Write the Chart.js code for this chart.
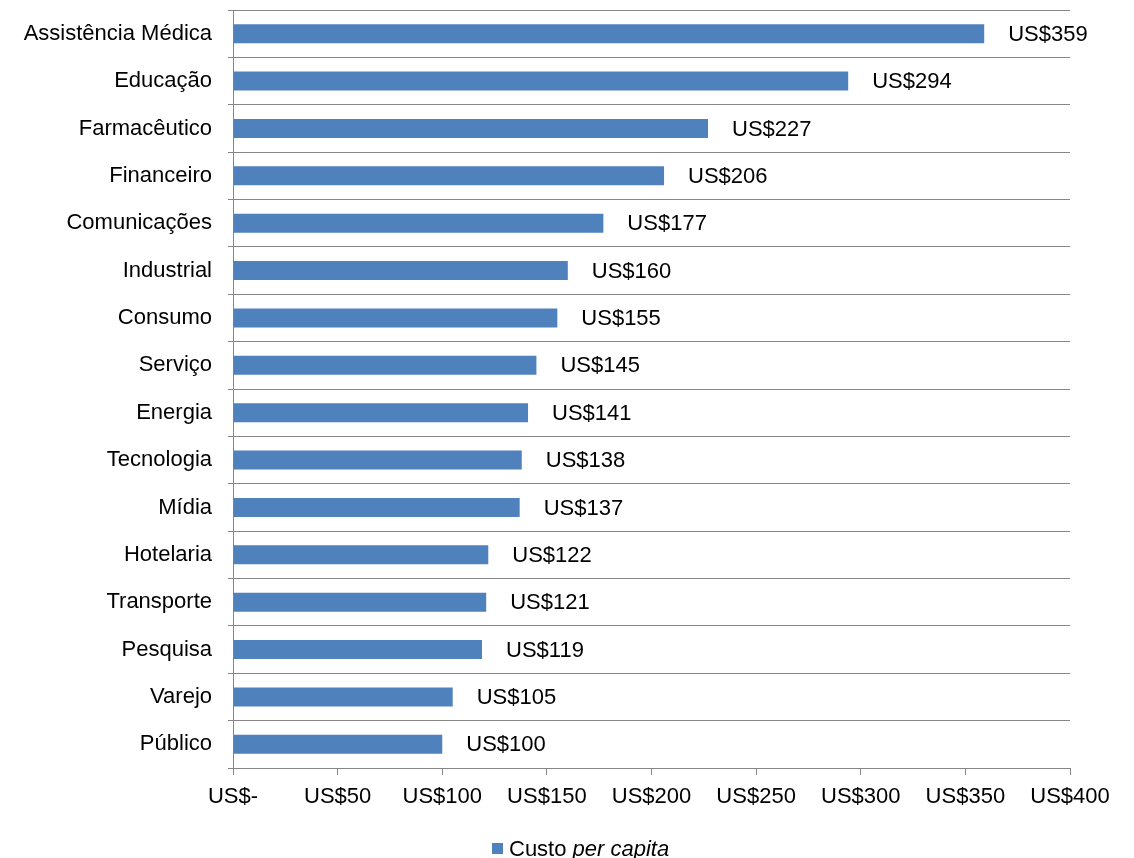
<!DOCTYPE html>
<html lang="pt">
<head>
    <meta charset="UTF-8">
    <title>Custo per capita por setor</title>
    <script src="https://cdn.jsdelivr.net/npm/chart.js"></script>
    <style>
        html, body { margin: 0; padding: 0; background: #fff; }
        #wrap { position: relative; width: 1134px; height: 858px; }
    </style>
</head>
<body>
<div id="wrap"><canvas id="chart"></canvas></div>
<script>
    // data
    const sectors = ['Assistência Médica', 'Educação', 'Farmacêutico', 'Financeiro', 'Comunicações',
        'Industrial', 'Consumo', 'Serviço', 'Energia', 'Tecnologia', 'Mídia', 'Hotelaria',
        'Transporte', 'Pesquisa', 'Varejo', 'Público'];
    const costPerCapita = [359, 294, 227, 206, 177, 160, 155, 145, 141, 138, 137, 122, 121, 119, 105, 100];
    const xTicks = [0, 50, 100, 150, 200, 250, 300, 350, 400];

    const FONT = "'Liberation Sans', Arial, sans-serif";
    const SIZE = 22;
    const GRAY = '#868686';
    const BLUE = '#4F81BD';

    const fmt = v => v === 0 ? 'US$-' : 'US$' + v;

    // value labels to the right of each bar
    const valueLabels = {
        id: 'valueLabels',
        afterDatasetsDraw(chart) {
            const ctx = chart.ctx;
            const meta = chart.getDatasetMeta(0);
            ctx.save();
            ctx.font = SIZE + 'px ' + FONT;
            ctx.fillStyle = '#000';
            ctx.textAlign = 'left';
            ctx.textBaseline = 'middle';
            meta.data.forEach((bar, i) => {
                ctx.fillText(fmt(costPerCapita[i]), bar.x + 24, bar.y + 1);
            });
            ctx.restore();
        }
    };

    // legend with the italic "per capita"
    const customLegend = {
        id: 'customLegend',
        afterDraw(chart) {
            const ctx = chart.ctx;
            ctx.save();
            ctx.fillStyle = BLUE;
            ctx.fillRect(492, 843, 11, 11);
            ctx.fillStyle = '#000';
            ctx.textBaseline = 'alphabetic';
            ctx.font = SIZE + 'px ' + FONT;
            ctx.fillText('Custo ', 509, 856);
            const w = ctx.measureText('Custo ').width;
            ctx.font = 'italic ' + SIZE + 'px ' + FONT;
            ctx.fillText('per capita', 509 + w, 856);
            ctx.restore();
        }
    };

    new Chart(document.getElementById('chart'), {
        type: 'bar',
        data: {
            labels: sectors,
            datasets: [{
                label: 'Custo per capita',
                data: costPerCapita,
                backgroundColor: BLUE,
                borderWidth: 0,
                barPercentage: 0.8,
                categoryPercentage: 0.5
            }]
        },
        options: {
            indexAxis: 'y',
            responsive: true,
            maintainAspectRatio: false,
            animation: false,
            layout: { padding: { top: 10, right: 64, left: 8, bottom: 0 } },
            plugins: {
                legend: { display: false },
                tooltip: { enabled: false }
            },
            scales: {
                x: {
                    min: 0,
                    max: 400,
                    afterBuildTicks: s => { s.ticks = xTicks.map(v => ({ value: v })); },
                    afterFit: s => { s.height = 90; },
                    grid: { drawOnChartArea: false, drawTicks: true, tickLength: 7, color: GRAY },
                    border: { color: GRAY, width: 1 },
                    ticks: {
                        color: '#000',
                        font: { family: FONT, size: SIZE },
                        padding: 9,
                        maxRotation: 0,
                        autoSkip: false,
                        callback: v => fmt(v)
                    }
                },
                y: {
                    afterFit: s => { s.width = 225; s.paddingTop = 0; s.paddingBottom = 0; },
                    grid: { offset: true, color: GRAY, lineWidth: 1, tickLength: 5 },
                    border: { color: GRAY, width: 1 },
                    ticks: {
                        color: '#000',
                        font: { family: FONT, size: SIZE },
                        padding: 16,
                        autoSkip: false
                    }
                }
            }
        },
        plugins: [valueLabels, customLegend]
    });
</script>
</body>
</html>
